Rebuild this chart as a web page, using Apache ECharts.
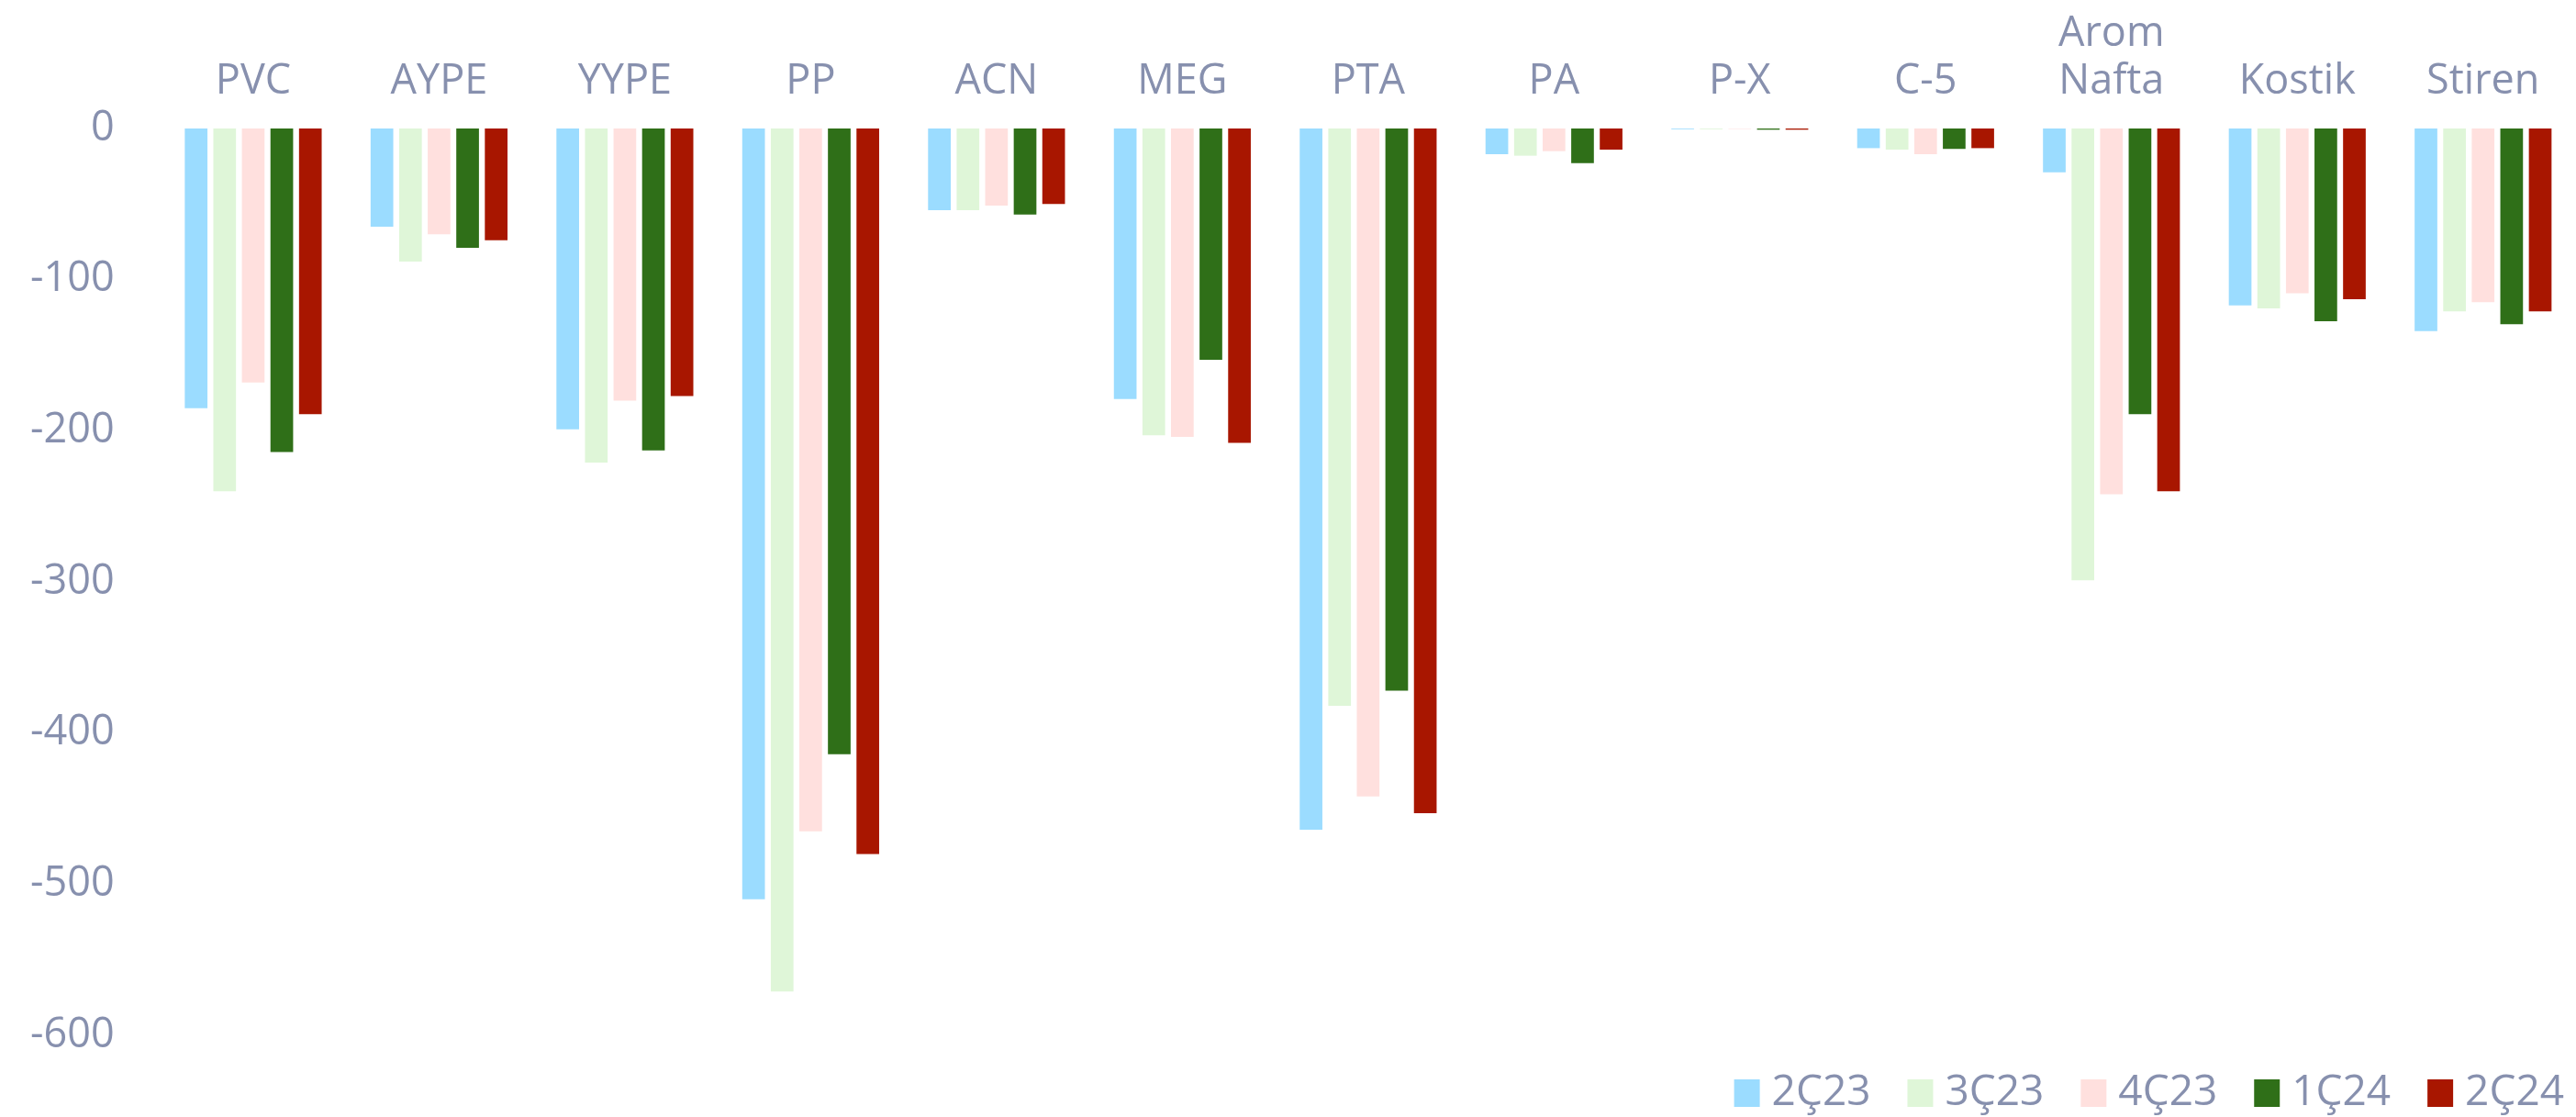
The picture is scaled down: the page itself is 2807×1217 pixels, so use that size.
<!DOCTYPE html>
<html>
<head>
<meta charset="utf-8">
<title>chart</title>
<script src="https://cdn.jsdelivr.net/npm/echarts@6/dist/echarts.min.js"></script>
<style>
  html, body { margin: 0; padding: 0; background: #fff; }
  #chart { width: 2807px; height: 1217px; }
</style>
</head>
<body>
<div id="chart"></div>
<script>
var categories = ["PVC", "AYPE", "YYPE", "PP", "ACN", "MEG", "PTA", "PA", "P-X", "C-5", "Arom\nNafta", "Kostik", "Stiren"];
var seriesNames = ["2Ç23", "3Ç23", "4Ç23", "1Ç24", "2Ç24"];
var colors = ["#9bdcff", "#dff6d8", "#ffe0de", "#2f6f18", "#a81600"];

var q2_23 = [-185, -65, -199, -510, -54, -179, -464, -17, -0.5, -13, -29, -117, -134];
var q3_23 = [-240, -88, -221, -571, -54, -203, -382, -18, -0.5, -14, -299, -119, -121];
var q4_23 = [-168, -70, -180, -465, -51, -204, -442, -15, -0.3, -17, -242, -109, -115];
var q1_24 = [-214, -79, -213, -414, -57, -153, -372, -23, -0.8, -13.5, -189, -127.5, -129.5];
var q2_24 = [-189, -74, -177, -480, -50, -208, -453, -14, -0.8, -13, -240, -113, -121];

var yTicks = { min: -600, max: 0, interval: 100 };

var textColor = "#8790ae";
var fontFamily = "'Open Sans', 'Noto Sans', sans-serif";

var allData = [q2_23, q3_23, q4_23, q1_24, q2_24];
var series = [];
allData.forEach(function (d, i) {
  series.push({
    name: seriesNames[i],
    type: "bar",
    data: d,
    barWidth: 24.7,
    barGap: "26%",
    itemStyle: { color: colors[i] },
  });
});

var myChart = echarts.init(document.getElementById("chart"));
var option = {
  backgroundColor: "#ffffff",
  animation: false,
  color: colors,
  grid: {
    left: 174.7,
    right: -10,
    top: 140,
    bottom: 89,
  },
  legend: {
    data: seriesNames,
    right: 8,
    top: 1163,
    icon: "rect",
    itemWidth: 28,
    itemHeight: 30,
    itemGap: 40,
    textStyle: {
      color: textColor,
      fontSize: 46,
      fontFamily: fontFamily,
      padding: [0, 0, 0, 8],
    },
  },
  xAxis: [
    {
      type: "category",
      position: "top",
      data: categories,
      axisLine: { show: false },
      axisTick: { show: false },
      axisLabel: {
        interval: 0,
        color: textColor,
        fontSize: 45,
        lineHeight: 52,
        margin: 25,
        fontFamily: fontFamily,
      },
    },
  ],
  yAxis: [
    {
      type: "value",
      min: yTicks.min,
      max: yTicks.max,
      interval: yTicks.interval,
      axisLine: { show: false },
      axisTick: { show: false },
      splitLine: { show: false },
      axisLabel: {
        color: textColor,
        fontSize: 45,
        margin: 50,
        fontFamily: fontFamily,
      },
    },
  ],
  series: series,
};
myChart.setOption(option);
</script>
</body>
</html>
